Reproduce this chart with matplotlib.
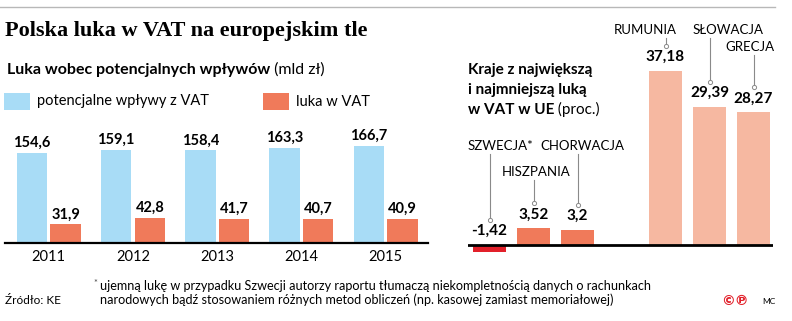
import numpy as np
import matplotlib
matplotlib.use('Agg')
import matplotlib.pyplot as plt
from matplotlib.patches import Rectangle

# ---------------- data ----------------
years = ['2011', '2012', '2013', '2014', '2015']
potential = [154.6, 159.1, 158.4, 163.3, 166.7]
vat_gap = [31.9, 42.8, 41.7, 40.7, 40.9]

countries = ['SZWECJA*', 'HISZPANIA', 'CHORWACJA', 'RUMUNIA', 'SŁOWACJA', 'GRECJA']
country_gap = [-1.42, 3.52, 3.2, 37.18, 29.39, 28.27]
country_pos = [0, 1, 2, 4, 5, 6]

# ---------------- style ----------------
BLUE = '#a8dcf6'
ORANGE = '#f07a5a'
RED = '#e2202a'
SALMON = '#f6b8a1'
GREY = '#8a8a8a'
SANS = ['Lato', 'DejaVu Sans']
SERIF = ['Liberation Serif', 'DejaVu Serif']
plt.rcParams['font.family'] = SANS

W, H = 792, 321
fig = plt.figure(figsize=(W / 100, H / 100), dpi=100)
fig.patch.set_facecolor('white')


def fx(x):
    return x / W


def fy(y):
    return 1 - y / H


bg = fig.add_axes([0, 0, 1, 1])
bg.set_xlim(0, W)
bg.set_ylim(H, 0)
bg.axis('off')


def fmt(v):
    s = f'{v:.2f}' if abs(v * 10 - round(v * 10)) > 1e-6 else f'{v:.1f}'
    return s.replace('.', ',')


# top rule
bg.plot([0, 775], [7, 7], color='#b8b8b8', lw=1)

# title
bg.text(5, 31, 'Polska luka w VAT na europejskim tle', family=SERIF,
        weight='bold', fontsize=16, va='center', ha='left')

# subtitle
t1 = bg.text(7, 70, 'Luka wobec potencjalnych wpływów', weight='bold',
             fontsize=11.5, va='center', ha='left')
bg.annotate(' (mld zł)', xy=(1, 0), xycoords=t1, va='bottom', ha='left',
            fontsize=11.5)

# legend
bg.add_patch(Rectangle((4, 93), 26, 17, color=BLUE, lw=0))
bg.text(37, 101.5, 'potencjalne wpływy z VAT', fontsize=10.5, va='center')
bg.add_patch(Rectangle((263, 93), 26, 17, color=ORANGE, lw=0))
bg.text(296, 101.5, 'luka w VAT', fontsize=10.5, va='center')

# ---------------- left chart ----------------
s1 = 0.584
base1, top1 = 243, 128
gs = 84.2
c0 = 48.8
ax1 = fig.add_axes([fx(5), fy(base1), (428 - 5) / W, (base1 - top1) / H])
ax1.set_ylim(0, (base1 - top1) / s1)
ax1.set_xlim((5 - c0) / gs, (428 - c0) / gs)
x = np.arange(len(years))
bw = 0.36
b1 = ax1.bar(x - 0.2, potential, bw, color=BLUE, lw=0)
b2 = ax1.bar(x + 0.2, vat_gap, bw, color=ORANGE, lw=0)
for bars, vals in ((b1, potential), (b2, vat_gap)):
    for r, v in zip(bars, vals):
        ax1.annotate(fmt(v), (r.get_x() + r.get_width() / 2, v),
                     xytext=(0, 10), textcoords='offset pixels',
                     ha='center', va='center', weight='bold', fontsize=10.5)
for s in ('top', 'right', 'left'):
    ax1.spines[s].set_visible(False)
ax1.spines['bottom'].set_linewidth(1.6)
ax1.set_yticks([])
ax1.set_xticks(x)
ax1.set_xticklabels(years, fontsize=10.5)
ax1.tick_params(axis='x', length=0, pad=5)
ax1.patch.set_alpha(0)

# ---------------- right chart ----------------
s2 = 4.69
base2, top2, bot2 = 245, 20, 256
sp = 44
c2 = 489.5
ax2 = fig.add_axes([fx(468), fy(bot2), (773 - 468) / W, (bot2 - top2) / H])
ax2.set_ylim(-(bot2 - base2) / s2, (base2 - top2) / s2)
ax2.set_xlim((468 - c2) / sp, (773 - c2) / sp)
ax2.axis('off')
bar_colors = [RED, ORANGE, ORANGE, SALMON, SALMON, SALMON]
bars2 = ax2.bar(country_pos, country_gap, 0.73, color=bar_colors, lw=0)
ax2.axhline(0, color='black', lw=2)

# name label layout (pixel positions of the label centres)
name_px = [(500, 146), (536, 172), (582, 146), (645, 30), (728, 30), (750, 47)]

for p, v, name, (nx, ny) in zip(country_pos, country_gap, countries, name_px):
    top = max(v, 0)
    ax2.annotate(fmt(v), (p, top), xytext=(0, 14), textcoords='offset pixels',
                 ha='center', va='center', weight='bold', fontsize=11)
    circ_y = top + 25 / s2
    lead_top = (base2 - (ny + 8)) / s2
    ax2.plot([p, p], [circ_y, lead_top], color=GREY, lw=0.8, clip_on=False)
    ax2.plot([p], [circ_y], marker='o', ms=3, mfc='white', mec=GREY, mew=0.7,
             clip_on=False)
    bg.text(nx, ny, name, fontsize=9.5, ha='center', va='center')

# right title
bg.text(468, 70, 'Kraje z największą', weight='bold', fontsize=11, va='center')
bg.text(468, 90, 'i najmniejszą luką', weight='bold', fontsize=11, va='center')
t3 = bg.text(468, 110, 'w VAT w UE', weight='bold', fontsize=11, va='center')
bg.annotate(' (proc.)', xy=(1, 0), xycoords=t3, va='bottom', ha='left',
            fontsize=11)

# ---------------- footer ----------------
bg.text(5, 301, 'Źródło: KE', fontsize=8.5, va='center')
bg.text(93, 283, '*', fontsize=6.5, va='center', color='#444444')
bg.text(100, 286, 'ujemną lukę w przypadku Szwecji autorzy raportu tłumaczą '
        'niekompletnością danych o rachunkach', fontsize=9.1, va='center')
bg.text(100, 300, 'narodowych bądź stosowaniem różnych metod obliczeń '
        '(np. kasowej zamiast memoriałowej)', fontsize=9.1, va='center')
bg.text(721, 301, '©℗', fontsize=10, color=RED, weight='bold', va='center',
        family=['DejaVu Sans'])
bg.text(762, 301, 'MC', fontsize=6, va='center')

fig.savefig('out.png', dpi=100)
